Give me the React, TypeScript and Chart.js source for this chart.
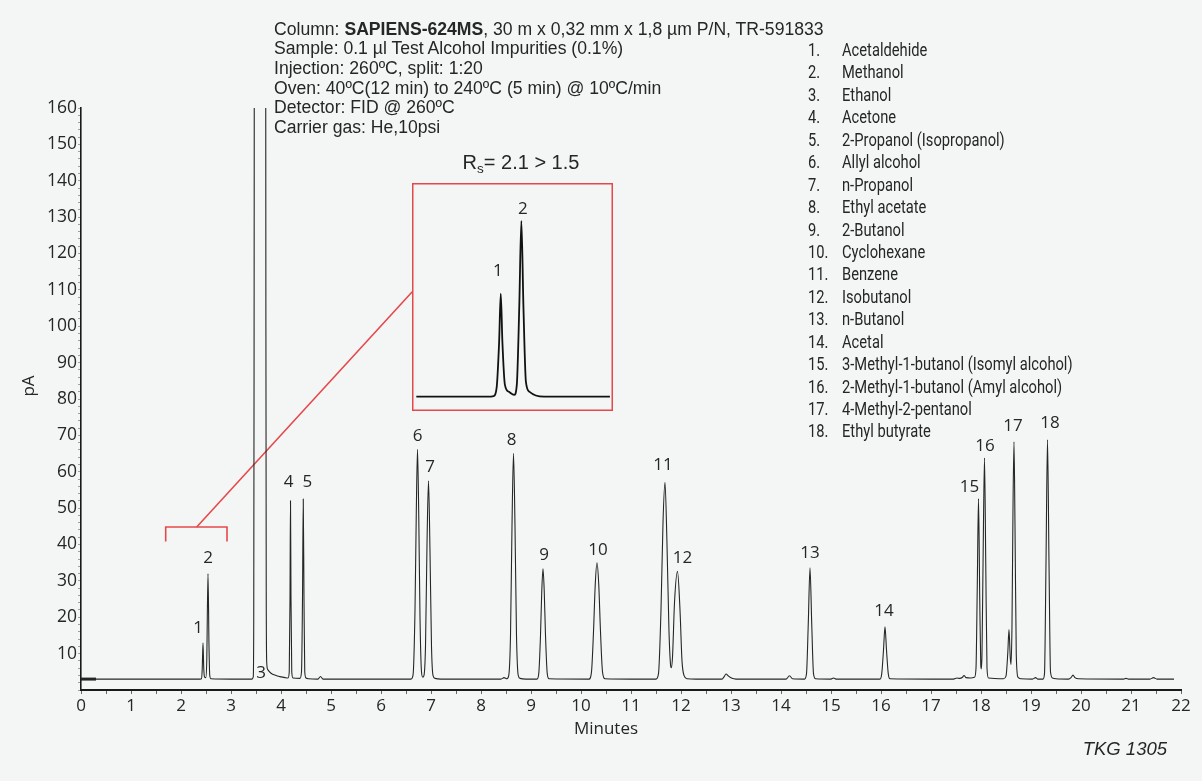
import React, { useEffect, useRef } from 'react';
import { Chart, registerables } from 'chart.js';

Chart.register(...registerables);

// ---------- data ----------
// chromatogram trace: [minutes, pA]
const chromatogram: [number, number][] = [
  [0, 3.0], [0.3, 3.0], [1.0, 3.0], [2.0, 3.0], [2.38, 3.0],
  [2.41, 3.1], [2.425, 6], [2.44, 13], [2.455, 6], [2.47, 3.6],
  [2.495, 3.4], [2.515, 8], [2.54, 32], [2.56, 12], [2.575, 4], [2.6, 3.1],
  [3.0, 3.0], [3.42, 3.0],
  [3.445, 3.6], [3.455, 20], [3.462, 100], [3.47, 230], [3.69, 230], [3.698, 100], [3.705, 25], [3.715, 7.5],
  [3.735, 5.6], [3.8, 4.6], [3.9, 4.0], [4.0, 3.6], [4.08, 3.4],
  [4.14, 3.3], [4.165, 5], [4.18, 25], [4.19, 52], [4.2, 25], [4.215, 5], [4.24, 3.3],
  [4.38, 3.2], [4.41, 5], [4.43, 25], [4.445, 52.5], [4.46, 25], [4.475, 5], [4.5, 3.3], [4.55, 3.1],
  [4.74, 3.0], [4.79, 3.7], [4.84, 3.0],
  [5.5, 3.0], [6.6, 3.0],
  [6.64, 4.0], [6.68, 22], [6.705, 48], [6.73, 66.2], [6.755, 48], [6.78, 20], [6.81, 5], [6.835, 3.5],
  [6.86, 4.0], [6.89, 12], [6.92, 40], [6.95, 57.5], [6.98, 38], [7.01, 12], [7.04, 4.0], [7.08, 3.2], [7.2, 3.0],
  [8.0, 3.0], [8.4, 3.0], [8.46, 3.4], [8.52, 3.1],
  [8.555, 4], [8.59, 15], [8.62, 45], [8.65, 65.1], [8.68, 45], [8.71, 15], [8.745, 4], [8.78, 3.2], [8.9, 3.0],
  [9.12, 3.0], [9.155, 4.5], [9.19, 15], [9.215, 27], [9.24, 33.3], [9.265, 27], [9.29, 15], [9.325, 4.5], [9.36, 3.1],
  [10.16, 3.0], [10.21, 5], [10.25, 16], [10.285, 29], [10.32, 35], [10.355, 29], [10.39, 16], [10.43, 5], [10.48, 3.1],
  [11.0, 3.0], [11.5, 3.0], [11.55, 4.5], [11.6, 22], [11.64, 46], [11.68, 57.1], [11.72, 40], [11.76, 16], [11.79, 7],
  [11.805, 6.1], [11.83, 9], [11.87, 24], [11.93, 32.6], [11.98, 22], [12.02, 8], [12.06, 4], [12.12, 3.1], [12.3, 3.0],
  [12.82, 3.0], [12.86, 3.6], [12.9, 4.4], [12.95, 3.8], [13.02, 3.2], [13.1, 3.0],
  [14.1, 3.0], [14.17, 3.9], [14.23, 3.1],
  [14.47, 3.0], [14.51, 4.5], [14.545, 18], [14.58, 33.6], [14.615, 18], [14.65, 4.5], [14.69, 3.1],
  [15.0, 3.0], [15.05, 3.3], [15.1, 3.0],
  [15.98, 3.0], [16.015, 4.5], [16.05, 11], [16.08, 17.4], [16.11, 11], [16.145, 4.5], [16.18, 3.1],
  [17.0, 3.0], [17.45, 3.0], [17.52, 3.3], [17.57, 3.2], [17.63, 3.5], [17.66, 4.0], [17.7, 3.4], [17.8, 3.3],
  [17.87, 3.5], [17.9, 6], [17.925, 28], [17.95, 52.6], [17.975, 25], [17.995, 7], [18.005, 5.8], [18.02, 10],
  [18.045, 40], [18.07, 63.8], [18.095, 35], [18.12, 6], [18.15, 3.3],
  [18.45, 3.1], [18.5, 3.8], [18.535, 10], [18.56, 16.6], [18.585, 9], [18.6, 7.0], [18.62, 18], [18.64, 50],
  [18.66, 68.2], [18.68, 45], [18.705, 10], [18.74, 3.5], [18.8, 3.1],
  [19.03, 3.0], [19.09, 3.4], [19.14, 3.0],
  [19.24, 3.0], [19.27, 4.5], [19.3, 35], [19.33, 68.8], [19.36, 35], [19.39, 5], [19.43, 3.3], [19.5, 3.1],
  [19.75, 3.0], [19.8, 3.4], [19.84, 4.1], [19.88, 3.4], [19.95, 3.1],
  [20.85, 3.0], [20.9, 3.2], [20.95, 3.0],
  [21.38, 3.0], [21.45, 3.4], [21.52, 3.0],
  [21.86, 3.0],
];

// short thick baseline stub at the injection point
const injectionStub: [number, number][] = [[0, 3.0], [0.3, 3.0]];

// zoom inset (peaks 1 and 2), in its own units
const insetTrace: [number, number][] = [
  [2.03, 3.0], [2.38, 3.0], [2.405, 3.1], [2.42, 4.5], [2.432, 12], [2.44, 20], [2.448, 12], [2.46, 5],
  [2.48, 3.8], [2.505, 3.3], [2.518, 5], [2.53, 18], [2.54, 32], [2.55, 18], [2.562, 5.5], [2.58, 3.8],
  [2.61, 3.2], [2.65, 3.0], [2.97, 3.0],
];
const insetPeakNumbers = ['1', '2'];
const insetPeakTimes = [2.44, 2.54];
const insetPeakHeights = [20, 32];

// red bracket under the zoomed region and its connector to the inset
const bracketTimes = [1.694, 1.694, 2.92, 2.92];
const bracketValues = [40.8, 44.8, 44.8, 40.8];
const connectorTimes = [2.314, 6.625];
const connectorValues = [44.8, 109.5];

// peak labels
const peakNumbers = ['1', '2', '3', '4', '5', '6', '7', '8', '9', '10', '11', '12', '13', '14', '15', '16', '17', '18'];
const peakTimes = [2.44, 2.54, 3.6, 4.19, 4.445, 6.73, 6.95, 8.65, 9.24, 10.32, 11.68, 11.93, 14.58, 16.08, 17.95, 18.07, 18.66, 19.33];
const peakHeights: (number | null)[] = [13, 32, null, 52, 52.5, 66.2, 57.5, 65.1, 33.3, 35, 57.1, 32.6, 33.6, 17.4, 52.6, 63.8, 68.2, 68.8];
const baselineLevel = 3.0;

const compoundNames = [
  'Acetaldehide', 'Methanol', 'Ethanol', 'Acetone', '2-Propanol (Isopropanol)', 'Allyl alcohol', 'n-Propanol',
  'Ethyl acetate', '2-Butanol', 'Cyclohexane', 'Benzene', 'Isobutanol', 'n-Butanol', 'Acetal',
  '3-Methyl-1-butanol (Isomyl alcohol)', '2-Methyl-1-butanol (Amyl alcohol)', '4-Methyl-2-pentanol', 'Ethyl butyrate',
];

const xTickMin = 0;
const xTickMax = 22;
const yTickMin = 0;
const yTickMax = 160;

// ---------- styles (kept apart from data) ----------
const W = 1202;
const H = 781;
const BG = '#f4f6f6';
const INK = '#262626';
const RED = '#e5484b';
const TICK_FONT = "'Open Sans', 'Noto Sans', sans-serif";
const TEXT_FONT = "'Liberation Sans', Arial, sans-serif";
const NARROW_FONT = "Roboto, 'Noto Sans', sans-serif";

const labelDx = [-5, 0, 0, -2, 4, 0, 1.5, -2, 1, 1, -2, 5, 0, -1, -9, 0.5, -1, 2.5];
const labelDy = [15, 15, 5.5, 19, 17, 13, 14, 13, 14, 13, 17, 13, 15, 16, 12, 12, 16, 17];

const toXY = (pts: [number, number][]) => pts.map(([x, y]) => ({ x, y }));

const peakLabelPlugin = {
  id: 'peakLabels',
  afterDatasetsDraw(chart: any) {
    const { ctx, scales } = chart;
    const xs = scales.x;
    const ys = scales.y;
    ctx.save();
    ctx.font = `17px ${TICK_FONT}`;
    ctx.fillStyle = INK;
    ctx.textAlign = 'center';
    ctx.textBaseline = 'middle';
    peakNumbers.forEach((n, i) => {
      const v = peakHeights[i] ?? baselineLevel;
      ctx.fillText(n, xs.getPixelForValue(peakTimes[i]) + labelDx[i], ys.getPixelForValue(v) - labelDy[i]);
    });
    // axis titles
    ctx.fillText('Minutes', xs.getPixelForValue(10.5), 729);
    ctx.translate(29, 386);
    ctx.rotate(-Math.PI / 2);
    ctx.fillText('pA', 0, 0);
    ctx.restore();
  },
};

const insetPlugin = {
  id: 'insetDecor',
  afterDatasetsDraw(chart: any) {
    const { ctx, scales, width, height } = chart;
    ctx.save();
    ctx.strokeStyle = RED;
    ctx.lineWidth = 1.5;
    ctx.strokeRect(0.75, 0.75, width - 1.5, height - 1.5);
    ctx.font = `17px ${TICK_FONT}`;
    ctx.fillStyle = INK;
    ctx.textAlign = 'center';
    ctx.textBaseline = 'middle';
    const dx = [-3, 1.5];
    const dy = [23, 12];
    insetPeakNumbers.forEach((n, i) => {
      ctx.fillText(n, scales.x.getPixelForValue(insetPeakTimes[i]) + dx[i], scales.y.getPixelForValue(insetPeakHeights[i]) - dy[i]);
    });
    ctx.restore();
  },
};

export default function App() {
  const mainRef = useRef<HTMLCanvasElement>(null);
  const insetRef = useRef<HTMLCanvasElement>(null);

  useEffect(() => {
    const main = new Chart(mainRef.current as HTMLCanvasElement, {
      type: 'line',
      data: {
        datasets: [
          {
            data: toXY(chromatogram),
            borderColor: INK,
            borderWidth: 1.1,
            pointRadius: 0,
            cubicInterpolationMode: 'monotone',
            fill: false,
          },
          {
            data: toXY(injectionStub),
            borderColor: INK,
            borderWidth: 3,
            pointRadius: 0,
            fill: false,
          },
          {
            data: bracketTimes.map((x, i) => ({ x, y: bracketValues[i] })),
            borderColor: RED,
            borderWidth: 1.6,
            pointRadius: 0,
            tension: 0,
            fill: false,
          },
          {
            data: connectorTimes.map((x, i) => ({ x, y: connectorValues[i] })),
            borderColor: RED,
            borderWidth: 1.6,
            pointRadius: 0,
            tension: 0,
            fill: false,
          },
        ],
      } as any,
      options: {
        animation: false,
        responsive: false,
        devicePixelRatio: 1,
        events: [],
        layout: { padding: { left: 0, right: 21, top: 108, bottom: 0 } },
        plugins: { legend: { display: false }, tooltip: { enabled: false }, title: { display: false } },
        scales: {
          x: {
            type: 'linear',
            min: xTickMin,
            max: xTickMax,
            afterFit: (s: any) => { s.height = 91; },
            ticks: {
              stepSize: 0.5,
              autoSkip: false,
              maxRotation: 0,
              callback: (v: any) => (Number.isInteger(v) ? String(v) : ''),
              font: { family: TICK_FONT, size: 17 },
              color: INK,
              padding: 2,
            },
            grid: { drawOnChartArea: false, drawTicks: true, tickLength: 4, tickColor: '#666', tickWidth: 1 },
            border: { display: true, color: '#1a1a1a', width: 2 },
          },
          y: {
            type: 'linear',
            min: yTickMin,
            max: yTickMax,
            afterFit: (s: any) => { s.width = 81; },
            ticks: {
              stepSize: 2,
              autoSkip: false,
              callback: (v: any) => (v % 10 === 0 && v > 0 ? String(v) : ''),
              font: { family: TICK_FONT, size: 17.5 },
              color: INK,
              padding: 1,
            },
            grid: { drawOnChartArea: false, drawTicks: true, tickLength: 3, tickColor: 'rgba(0,0,0,0.35)', tickWidth: 1 },
            border: { display: true, color: '#1a1a1a', width: 1.6 },
          },
        },
      } as any,
      plugins: [peakLabelPlugin],
    });

    const inset = new Chart(insetRef.current as HTMLCanvasElement, {
      type: 'line',
      data: {
        datasets: [
          {
            data: toXY(insetTrace),
            borderColor: '#111',
            borderWidth: 1.8,
            pointRadius: 0,
            cubicInterpolationMode: 'monotone',
            fill: false,
          },
        ],
      } as any,
      options: {
        animation: false,
        responsive: false,
        devicePixelRatio: 1,
        events: [],
        layout: { padding: 0 },
        plugins: { legend: { display: false }, tooltip: { enabled: false } },
        scales: {
          x: { type: 'linear', min: 2.009, max: 2.985, display: false },
          y: { type: 'linear', min: 0.64, max: 38.27, display: false },
        },
      } as any,
      plugins: [insetPlugin],
    });

    return () => {
      main.destroy();
      inset.destroy();
    };
  }, []);

  const infoStyle: React.CSSProperties = {
    position: 'absolute', left: 274, top: 19.5, fontFamily: TEXT_FONT, fontSize: 17.6,
    lineHeight: '19.7px', color: INK, whiteSpace: 'nowrap',
  };

  const narrow: React.CSSProperties = {
    position: 'absolute', top: 0, transform: 'scaleX(0.84)', transformOrigin: 'left center', whiteSpace: 'nowrap',
  };

  return (
    <div style={{ position: 'fixed', left: 0, top: 0, width: W, height: H, background: BG, overflow: 'hidden' }}>
      <canvas ref={mainRef} width={W} height={H} style={{ position: 'absolute', left: 0, top: 0 }} />
      <canvas ref={insetRef} width={201} height={228} style={{ position: 'absolute', left: 412, top: 183 }} />
      <div style={infoStyle}>
        <div>Column: <b>SAPIENS-624MS</b>, 30 m x 0,32 mm x 1,8 µm P/N, TR-591833</div>
        <div>Sample: 0.1 µl Test Alcohol Impurities (0.1%)</div>
        <div>Injection: 260ºC, split: 1:20</div>
        <div>Oven: 40ºC(12 min) to 240ºC (5 min) @ 10ºC/min</div>
        <div>Detector: FID @ 260ºC</div>
        <div>Carrier gas: He,10psi</div>
      </div>
      <div style={{ position: 'absolute', left: 808, top: 39, fontFamily: NARROW_FONT, fontSize: 17.5, lineHeight: '22.45px', color: INK }}>
        {compoundNames.map((name, i) => (
          <div key={name} style={{ position: 'relative', height: 22.45 }}>
            <span style={{ ...narrow, left: 0 }}>{i + 1}.</span>
            <span style={{ ...narrow, left: 34 }}>{name}</span>
          </div>
        ))}
      </div>
      <div style={{ position: 'absolute', left: 521, top: 163, transform: 'translate(-50%, -50%)', fontFamily: TEXT_FONT, fontSize: 20, color: INK, whiteSpace: 'nowrap' }}>
        R<sub style={{ fontSize: 13.5, verticalAlign: '-4px' }}>s</sub>= 2.1 &gt; 1.5
      </div>
      <div style={{ position: 'absolute', right: W - 1167, top: 749, transform: 'translateY(-50%)', fontFamily: TEXT_FONT, fontStyle: 'italic', fontSize: 18.5, color: INK, whiteSpace: 'nowrap' }}>
        TKG 1305
      </div>
    </div>
  );
}
